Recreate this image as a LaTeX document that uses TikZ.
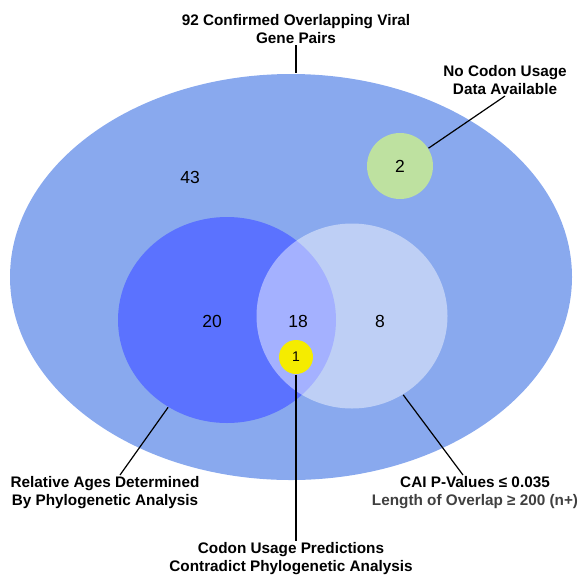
\documentclass[tikz,border=0pt]{standalone}
\usepackage{fontspec}
\setmainfont{Liberation Sans}
\usepackage{tikz}
\usetikzlibrary{shapes.geometric}

\definecolor{bigblue}{RGB}{137,169,238}
\definecolor{darkblue}{RGB}{91,114,255}
\definecolor{softgreen}{RGB}{190,225,160}
\definecolor{lemon}{RGB}{245,236,0}
\definecolor{greytext}{RGB}{64,64,64}

\begin{document}
\begin{tikzpicture}[x=1pt, y=-1pt, line width=1.2pt,
    set/.style={ellipse, inner sep=0pt, draw=none},
    num/.style={font=\fontsize{17.5}{20}\selectfont},
    lbl/.style={align=center, inner sep=1pt, font=\fontsize{15.3}{18}\selectfont\bfseries}]
    \useasboundingbox (0,0) rectangle (580,579);
    % sets
    \node[set, fill=bigblue, minimum width=562pt, minimum height=406pt] (all) at (291,277) {};
    \node[set, fill=darkblue, minimum width=218pt, minimum height=206pt] (phylo) at (227,320) {};
    \node[set, fill=white, fill opacity=0.45, minimum width=191pt, minimum height=185pt] (cai) at (352,316) {};
    \node[set, fill=lemon, minimum width=34pt, minimum height=34pt] (contra) at (296,357) {};
    \node[set, fill=softgreen, minimum width=66pt, minimum height=66pt] (nodata) at (400,166) {};
    % counts
    \node[num] (n43) at (190,177) {43};
    \node[num] (n20) at (212,321) {20};
    \node[num] (n18) at (298,321) {18};
    \node[num] (n8) at (380,321) {8};
    \node[num] (n2) at (400,166) {2};
    \node[font=\fontsize{14}{16}\selectfont] (n1) at (296,357) {1};
    % labels
    \node[lbl, anchor=south] (lall) at (296,45) {92 Confirmed Overlapping Viral\\Gene Pairs};
    \node[lbl, anchor=south] (lnodata) at (505,96) {No Codon Usage\\Data Available};
    \node[lbl, anchor=north] (lphylo) at (105,475) {Relative Ages Determined\\By Phylogenetic Analysis};
    \node[lbl, anchor=north] (lcai) at (475,475) {CAI P-Values \char"2264{} 0.035\\\color{greytext}Length of Overlap \char"2265{} 200 (n+)};
    \node[lbl, anchor=north] (lcontra) at (291,541) {Codon Usage Predictions\\Contradict Phylogenetic Analysis};
    % connectors
    \draw (lall.south) -- (lall.south |- all.north);
    \draw (nodata.32) -- (lnodata.south);
    \draw (phylo.-124) -- ([xshift=15pt]lphylo.north);
    \draw (cai.-57) -- ([xshift=-12pt]lcai.north);
    \draw (contra.south) -- ([xshift=5pt]lcontra.north);
\end{tikzpicture}
\end{document}
